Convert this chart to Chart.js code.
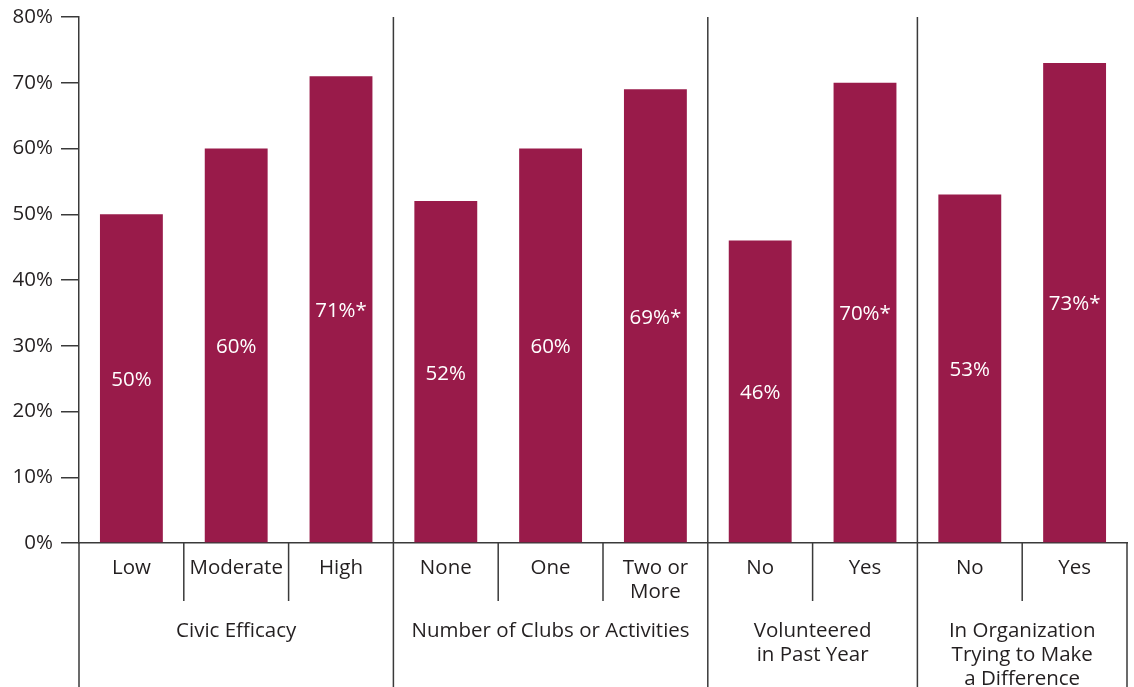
<!DOCTYPE html>
<html>
<head>
<meta charset="utf-8">
<script src="https://cdn.jsdelivr.net/npm/chart.js@4/dist/chart.umd.min.js"></script>
<style>
  html, body { margin: 0; padding: 0; background: #ffffff; }
  #wrap { width: 1134px; height: 687px; }
</style>
</head>
<body>
<div id="wrap"><canvas id="chart" width="1134" height="687"></canvas></div>
<script>
// Share of students by civic characteristic
const categories = ['Low', 'Moderate', 'High', 'None', 'One', ['Two or', 'More'], 'No', 'Yes', 'No', 'Yes'];
const values = [50, 60, 71, 52, 60, 69, 46, 70, 53, 73];
const significant = [false, false, true, false, false, true, false, true, false, true];
const groups = [
  { lines: ['Civic Efficacy'], first: 0, last: 2 },
  { lines: ['Number of Clubs or Activities'], first: 3, last: 5 },
  { lines: ['Volunteered', 'in Past Year'], first: 6, last: 7 },
  { lines: ['In Organization', 'Trying to Make', 'a Difference'], first: 8, last: 9 }
];
const yTicks = [0, 10, 20, 30, 40, 50, 60, 70, 80];

const FONT = '"Open Sans", Lato, sans-serif';
const SIZE = 20.5;
const TEXT = '#231f20';
const LINE = '#3a3a3a';
const BAR = '#991b4a';

// Divider lines between categories and groups, plus the group titles
const dividers = {
  id: 'dividers',
  afterDraw(chart) {
    const ctx = chart.ctx;
    const x = chart.scales.x;
    const area = chart.chartArea;
    const bottom = chart.height;
    const edge = i => (x.getPixelForValue(i) + x.getPixelForValue(i + 1)) / 2;
    ctx.save();
    ctx.strokeStyle = LINE;
    ctx.lineWidth = 1.5;
    const line = (px, y0, y1) => {
      ctx.beginPath();
      ctx.moveTo(px, y0);
      ctx.lineTo(px, y1);
      ctx.stroke();
    };
    // axis continues below the baseline, right edge of the table
    line(area.left, area.bottom, bottom);
    line(area.right, area.bottom, bottom);
    groups.forEach((g, gi) => {
      for (let i = g.first; i < g.last; i++) line(edge(i), area.bottom, area.bottom + 58);
      if (gi < groups.length - 1) line(edge(g.last), area.top, bottom);
    });
    // group titles
    ctx.fillStyle = TEXT;
    ctx.font = SIZE + 'px ' + FONT;
    ctx.textAlign = 'center';
    ctx.textBaseline = 'middle';
    groups.forEach(g => {
      const left = g.first === 0 ? area.left : edge(g.first - 1);
      const right = g.last === values.length - 1 ? area.right : edge(g.last);
      const cx = (left + right) / 2;
      g.lines.forEach((t, k) => ctx.fillText(t, cx, area.bottom + 88 + k * 24));
    });
    ctx.restore();
  }
};

// Value labels centred inside each bar
const barLabels = {
  id: 'barLabels',
  afterDatasetsDraw(chart) {
    const ctx = chart.ctx;
    const meta = chart.getDatasetMeta(0);
    ctx.save();
    ctx.fillStyle = '#ffffff';
    ctx.font = SIZE + 'px ' + FONT;
    ctx.textAlign = 'center';
    ctx.textBaseline = 'middle';
    meta.data.forEach((bar, i) => {
      const label = values[i] + '%' + (significant[i] ? '*' : '');
      ctx.fillText(label, bar.x, (bar.y + bar.base) / 2 + 2);
    });
    ctx.restore();
  }
};

new Chart(document.getElementById('chart'), {
  type: 'bar',
  data: {
    labels: categories,
    datasets: [{
      data: values,
      backgroundColor: BAR,
      borderWidth: 0,
      barPercentage: 0.6,
      categoryPercentage: 1.0
    }]
  },
  options: {
    responsive: false,
    devicePixelRatio: 1,
    animation: false,
    layout: { padding: { top: 17, right: 7, left: 0, bottom: 0 } },
    plugins: { legend: { display: false }, tooltip: { enabled: false } },
    scales: {
      x: {
        grid: { display: false, drawTicks: false },
        border: { display: true, color: LINE, width: 1.5 },
        ticks: {
          color: TEXT,
          font: { family: FONT, size: SIZE, lineHeight: 24 / SIZE },
          padding: 13,
          maxRotation: 0,
          autoSkip: false
        },
        afterFit(scale) { scale.height = 144; }
      },
      y: {
        min: 0,
        max: 80,
        afterBuildTicks(scale) { scale.ticks = yTicks.map(v => ({ value: v })); },
        grid: { drawOnChartArea: false, drawTicks: true, tickLength: 18, color: LINE, lineWidth: 1.5 },
        border: { display: true, color: LINE, width: 1.5 },
        ticks: {
          color: TEXT,
          font: { family: FONT, size: SIZE, lineHeight: 0.6 },
          padding: 8,
          callback: v => v + '%'
        },
        afterFit(scale) { scale.width = 79; }
      }
    }
  },
  plugins: [dividers, barLabels]
});
</script>
</body>
</html>
